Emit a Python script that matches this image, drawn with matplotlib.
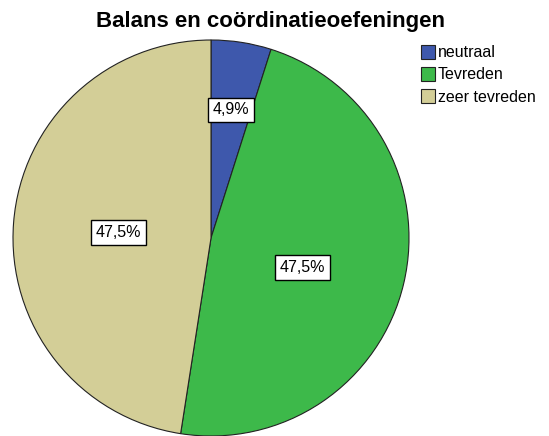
import numpy as np
import matplotlib.pyplot as plt

plt.rcParams['font.family'] = ['Liberation Sans', 'DejaVu Sans']

labels = ['neutraal', 'Tevreden', 'zeer tevreden']
values = [4.9, 47.5, 47.5]
pct_text = ['4,9%', '47,5%', '47,5%']
colors = ['#3E58AC', '#3DB94A', '#D3CE97']

fig = plt.figure(figsize=(5.49, 4.36), dpi=100)
W, H = 549, 436
cx, cy, r = 211, 238, 198
ax = fig.add_axes([(cx - r) / W, (H - cy - r) / H, 2 * r / W, 2 * r / H])

wedges, _ = ax.pie(values, colors=colors, startangle=90, counterclock=False,
                   wedgeprops=dict(edgecolor='#222222', linewidth=0.8))
ax.set_xlim(-1, 1)
ax.set_ylim(-1, 1)
ax.set_aspect('equal')

# label placement: fraction of radius and small angle shift (degrees)
dists = [0.655, 0.485, 0.47]
shift = [0, -4.5, 1.2]
for w, t, d, s in zip(wedges, pct_text, dists, shift):
    ang = np.deg2rad((w.theta1 + w.theta2) / 2 + s)
    ax.text(d * np.cos(ang), d * np.sin(ang), t, ha='center', va='center', fontsize=11.5,
            bbox=dict(boxstyle='square,pad=0.3', fc='white', ec='black', lw=1.0))

fig.text(270 / W, 1 - 21 / H, 'Balans en coördinatieoefeningen', ha='center', va='center',
         fontsize=16, fontweight='bold')

leg = fig.legend(wedges, labels, loc='upper left', bbox_to_anchor=(421 / W, 1 - 45 / H),
                 frameon=False, fontsize=11.5, handlelength=0.9, handleheight=0.95,
                 handletextpad=0.15, labelspacing=0.42, borderaxespad=0, borderpad=0)

fig.savefig('out.png', dpi=100)
